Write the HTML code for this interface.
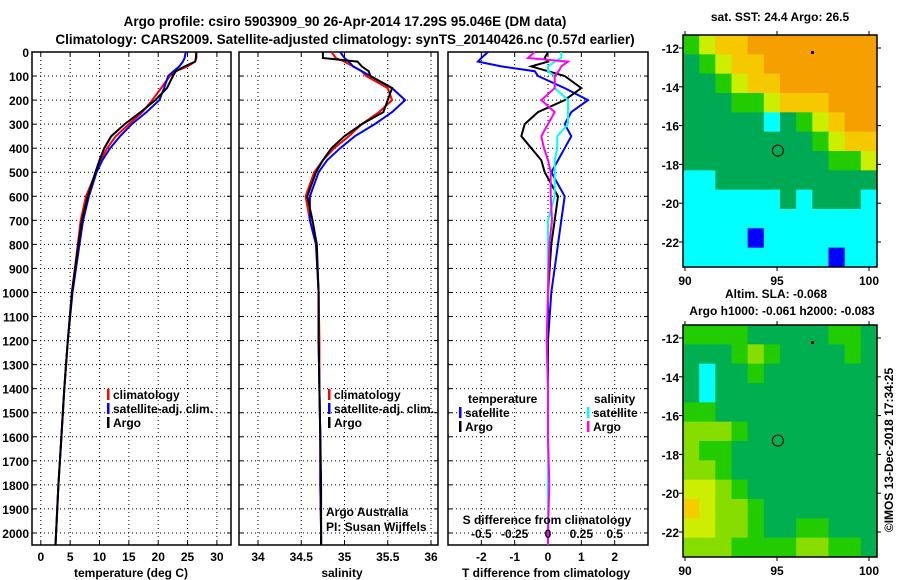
<!DOCTYPE html>
<html><head><meta charset="utf-8">
<style>
html,body{margin:0;padding:0;background:#fff;}
svg{display:block;font-family:"Liberation Sans",sans-serif;}
.b{font-weight:bold;font-size:12px;}
.t{font-weight:bold;font-size:13.5px;}
</style></head>
<body>
<svg id="fig" width="900" height="580" viewBox="0 0 900 580" xmlns="http://www.w3.org/2000/svg">
<rect width="900" height="580" fill="#fff"/>
<text class="t" x="345" y="26" text-anchor="middle">Argo profile: csiro 5903909_90 26-Apr-2014 17.29S 95.046E (DM data)</text>
<text class="t" x="345" y="44" text-anchor="middle">Climatology: CARS2009. Satellite-adjusted climatology: synTS_20140426.nc (0.57d earlier)</text>
<g id="g"></g>
</svg>
<script>
const depths=[0,25,40,60,80,100,150,200,250,300,350,400,450,500,600,700,800,1000,1200,1400,1600,1800,2000,2050];
const tClim=[26.5,26.5,26.3,25,23,22,20.5,19,17.3,15,12.8,11.3,10.2,9.4,7.7,6.8,6.3,5.3,4.6,4,3.5,3,2.6,2.5];
const tSat=[24.7,24.5,24.2,23.6,22.6,21.7,21,20.2,18,15.5,13.5,11.8,10.5,9.5,8.2,7.2,6.6,5.4,4.6,4,3.5,3,2.6,2.5];
const tArgo=[26.5,26.4,26.3,24.5,23,22.5,21.5,19.5,17,14.3,12,10.8,10,9.3,8,7,6.4,5.3,4.6,4,3.5,3,2.6,2.5];
const sClim=[34.85,34.9,35.0,35.1,35.2,35.25,35.5,35.55,35.4,35.2,35.05,34.88,34.75,34.65,34.55,34.6,34.67,34.7,34.71,34.71,34.72,34.72,34.73,34.73];
const sSat=[34.95,35.0,35.05,35.1,35.2,35.3,35.55,35.7,35.55,35.35,35.12,34.95,34.8,34.7,34.6,34.6,34.67,34.7,34.7,34.71,34.72,34.72,34.73,34.73];
const sArgo=[34.75,34.75,35.15,35.2,35.28,35.3,35.55,35.5,35.45,35.2,35.0,34.85,34.75,34.67,34.57,34.63,34.68,34.7,34.7,34.71,34.72,34.73,34.73,34.73];
const tTicks=[0,5,10,15,20,25,30];
const sTicks=[34,34.5,35,35.5,36];
const dTicks=[-2,-1,0,1,2];
const dsTicks=[-0.5,-0.25,0,0.25,0.5];
const depthTicks=[0,100,200,300,400,500,600,700,800,900,1000,1100,1200,1300,1400,1500,1600,1700,1800,1900,2000];
const latTicks=[-12,-14,-16,-18,-20,-22];
const lonTicks=[90,95,100];
const sstGrid=[
[3,4,5,5,6,6,6,6,6,6,6,6],
[2,3,4,5,5,6,6,6,6,6,6,6],
[2,2,3,4,5,5,6,6,6,6,6,6],
[2,2,2,3,3,4,5,5,5,6,6,6],
[2,2,2,2,2,1,2,3,4,5,6,6],
[2,2,2,2,2,2,2,2,3,4,5,5],
[2,2,2,2,2,2,2,2,2,3,3,4],
[1,1,2,2,2,2,2,2,2,2,2,2],
[1,1,1,1,1,1,2,1,2,2,2,1],
[1,1,1,1,1,1,1,1,1,1,1,1],
[1,1,1,1,0,1,1,1,1,1,1,1],
[1,1,1,1,1,1,1,1,1,0,1,1]];
const slaGrid=[
[2,2,2,2,1,1,1,1,1,2,2,1],
[1,1,1,2,3,2,1,1,1,1,2,1],
[1,0,1,1,2,1,1,1,1,1,1,1],
[1,0,1,1,1,1,1,1,1,1,1,1],
[2,2,1,1,1,1,1,1,1,1,1,1],
[3,3,3,2,1,1,1,1,1,1,1,1],
[3,2,2,1,1,1,1,1,1,1,1,1],
[3,3,2,1,1,1,1,1,1,1,1,1],
[4,4,3,2,1,1,1,1,1,1,1,1],
[5,4,3,3,2,1,1,1,1,1,1,1],
[4,4,3,3,2,1,1,2,2,1,1,1],
[3,3,3,2,2,2,2,3,3,2,2,1]];
const sstColors=["#0000ff","#00ffff","#00aa55","#22cc00","#ccee00","#f5c800","#f5a000"];
const slaColors=["#00ffff","#00b050","#22cc00","#88dd00","#ccee00","#f5cc00"];

const NS="http://www.w3.org/2000/svg";
const G=document.getElementById('g');
function el(tag,attrs,parent){const e=document.createElementNS(NS,tag);for(const k in attrs)e.setAttribute(k,attrs[k]);(parent||G).appendChild(e);return e;}
function txt(x,y,s,anchor,cls,parent){const e=el('text',{x:x,y:y,'text-anchor':anchor||'middle',class:cls||'b'},parent);e.textContent=s;return e;}
const yTop=52,yBot=545;
function yD(d){return yTop+(d/2050)*(yBot-yTop);}

function panel(name,x0,x1,xmin,xmax,ticks,showDepth){
  const g=el('g',{});
  
  
  const xs=v=>x0+(v-xmin)/(xmax-xmin)*(x1-x0);
  depthTicks.forEach(d=>{
    const y=yD(d);
    el('line',{x1:x0,x2:x1,y1:y,y2:y,stroke:'#000','stroke-dasharray':'1,3','stroke-width':1},g);
    el('line',{x1:x0,x2:x0+4,y1:y,y2:y,stroke:'#000'},g);
    el('line',{x1:x1-4,x2:x1,y1:y,y2:y,stroke:'#000'},g);
    if(showDepth){const t=txt(29,y+5,String(d),'end','b',g);}
  });
  ticks.forEach(v=>{
    const x=xs(v);
    el('line',{x1:x,x2:x,y1:yTop,y2:yBot,stroke:'#000','stroke-dasharray':'1,3'},g);
    el('line',{x1:x,x2:x,y1:yBot,y2:yBot-4,stroke:'#000'},g);
    el('line',{x1:x,x2:x,y1:yTop,y2:yTop+4,stroke:'#000'},g);
  });
  el('rect',{x:x0,y:yTop,width:x1-x0,height:yBot-yTop,fill:'none',stroke:'#000','stroke-width':1.5},g);
  return {g,xs};
}
function line(p,vals,color,name,w){
  const pts=vals.map((v,i)=>p.xs(v).toFixed(1)+','+yD(depths[i]).toFixed(1)).join(' ');
  const e=el('polyline',{points:pts,fill:'none',stroke:color,'stroke-width':w||2},p.g);
  
  
}
function legend(p,x,y,color,label){
  el('rect',{x:x,y:y-10,width:2.5,height:11,fill:color},p.g);
  const t=txt(x+6,y,label,'start','b',p.g);
  
  
}

const p1=panel('temperature-panel',32,231,-1.5,32.4,tTicks,true);
line(p1,tClim,'#ff0000','temp-climatology-line');
line(p1,tSat,'#0000ff','temp-satellite-line');
line(p1,tArgo,'#000','temp-argo-line');
tTicks.forEach(v=>txt(p1.xs(v),561,String(v)));
txt(131,577,'temperature (deg C)');
legend(p1,107,399,'#ff0000','climatology');
legend(p1,107,413,'#0000ff','satellite-adj. clim.');
legend(p1,107,427,'#000','Argo');

const p2=panel('salinity-panel',239,438,(239-258)/86.5+34,(438-258)/86.5+34,sTicks,false);
line(p2,sClim,'#ff0000','sal-climatology-line');
line(p2,sSat,'#0000ff','sal-satellite-line');
line(p2,sArgo,'#000','sal-argo-line');
sTicks.forEach(v=>txt(p2.xs(v),561,String(v)));
txt(342,577,'salinity');
legend(p2,328,399,'#ff0000','climatology');
legend(p2,328,413,'#0000ff','satellite-adj. clim.');
legend(p2,328,427,'#000','Argo');
const a1=txt(326,516,'Argo Australia','start','',p2.g);a1.setAttribute('font-size','12');
const a2=txt(326,531,'PI: Susan Wijffels','start','',p2.g);a2.setAttribute('font-size','12');

const p3=panel('difference-panel',448,648,-3,3,dTicks,false);
const dTs=tSat.map((v,i)=>v-tClim[i]);
const dTa=tArgo.map((v,i)=>v-tClim[i]);
const dSs=sSat.map((v,i)=>(v-sClim[i])*4);
const dSa=sArgo.map((v,i)=>(v-sClim[i])*4);
line(p3,dTs,'#0000ff','tdiff-satellite-line');
line(p3,dTa,'#000','tdiff-argo-line');
line(p3,dSs,'#00ffff','sdiff-satellite-line');
line(p3,dSa,'#ff00ff','sdiff-argo-line');
dTicks.forEach(v=>txt(p3.xs(v),561,String(v)));
dsTicks.forEach(v=>txt(p3.xs(v*4),538,String(v)));
txt(547,524,'S difference from climatology');
txt(546,577,'T difference from climatology');
txt(468,403,'temperature','start');
legend(p3,459,417,'#0000ff','satellite');
legend(p3,459,431,'#000','Argo');
txt(594,403,'salinity','start');
legend(p3,587,417,'#00ffff','satellite');
legend(p3,587,431,'#ff00ff','Argo');

function map(name,y0,grid,colors,title1,title2){
  const g=el('g',{});
  
  
  const x0=683,x1=877,y1=y0+232;
  const lonX=v=>685+(v-90)*18.4;
  const latY=v=>y0+13+(-12-v)*19.4;
  const cw=(x1-x0)/grid[0].length, ch=(y1-y0)/grid.length;
  grid.forEach((row,r)=>row.forEach((c,ci)=>{
    const rc=el('rect',{x:x0+ci*cw,y:y0+r*ch,width:cw+0.5,height:ch+0.5,fill:colors[c]},g);
    
    
  }));
  el('rect',{x:x0,y:y0,width:x1-x0,height:y1-y0,fill:'none',stroke:'#000','stroke-width':1.5},g);
  latTicks.forEach(v=>{const y=latY(v);el('line',{x1:x1,x2:x1+4,y1:y,y2:y,stroke:'#000'},g);el('line',{x1:x0-4,x2:x0,y1:y,y2:y,stroke:'#000'},g);txt(x0-4,y+5,String(v),'end','b',g);});
  lonTicks.forEach(v=>{const x=lonX(v);el('line',{x1:x,x2:x,y1:y0-4,y2:y0,stroke:'#000'},g);el('line',{x1:x,x2:x,y1:y1,y2:y1+4,stroke:'#000'},g);txt(x,y1+18,String(v),'middle','b',g);});
  el('circle',{cx:lonX(95.046),cy:latY(-17.29),r:5.5,fill:'none',stroke:'#000','stroke-width':1},g);
  el('rect',{x:811,y:y0+16,width:3,height:3,fill:'#000'},g);
  if(title2){txt(776,y0-27,title1,'middle','b',g).setAttribute('font-size','12');txt(782,y0-10,title2,'middle','b',g).setAttribute('font-size','12');}
  else txt(780,y0-14,title1,'middle','b',g).setAttribute('font-size','12');
}
map('sst-map',35,sstGrid,sstColors,'sat. SST: 24.4 Argo: 26.5');
map('sla-map',325,slaGrid,slaColors,'Altim. SLA: -0.068','Argo h1000: -0.061 h2000: -0.083');
const im=txt(0,0,'©IMOS 13-Dec-2018 17:34:25','middle','');
im.setAttribute('font-size','12');
im.setAttribute('transform','translate(893,450) rotate(-90)');


</script>
</body></html>
